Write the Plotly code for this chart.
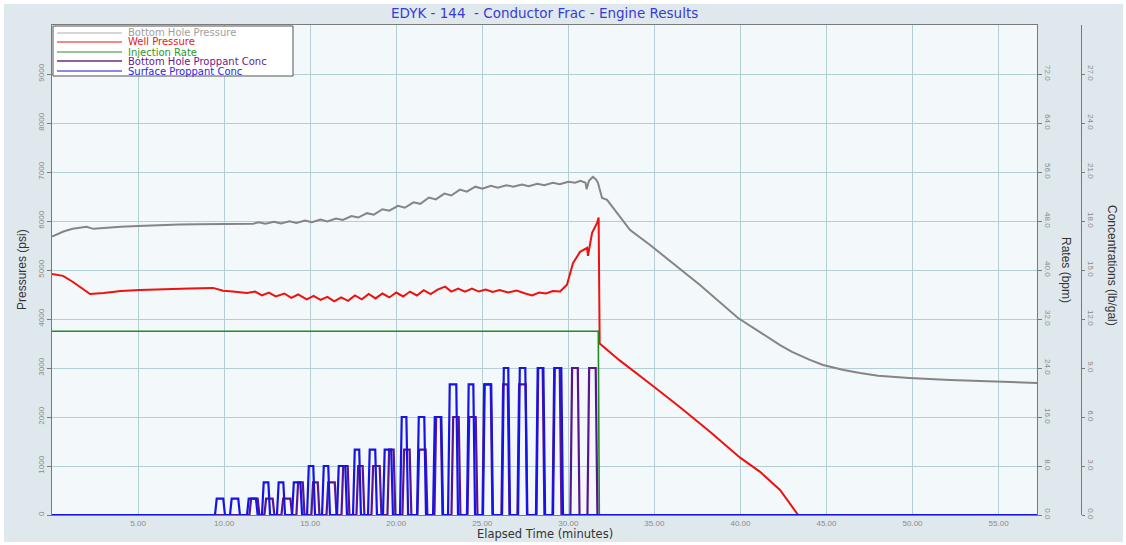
import plotly.graph_objects as go

# ---- Treatment data ----
# Bottom hole pressure (psi) vs elapsed time (min)
bhp_t = [0, 0.3, 0.7, 1.2, 1.7, 2.0, 2.4, 3.0, 4.0, 5.0, 6.0, 7.4, 8.5, 9.5, 10.5, 11.3, 11.7,
         12.0, 12.4, 12.9, 13.3, 13.8, 14.2, 14.7, 15.1, 15.6, 16.0, 16.5, 16.9, 17.4, 17.8,
         18.3, 18.7, 19.2, 19.6, 20.1, 20.5, 21.0, 21.4, 21.9, 22.3, 22.8, 23.2, 23.7, 24.1,
         24.6, 25.0, 25.5, 25.9, 26.4, 26.8, 27.3, 27.7, 28.2, 28.6, 29.1, 29.5, 30.0, 30.4,
         30.7, 31.0, 31.06, 31.2, 31.43, 31.6, 31.72, 31.85, 31.96, 32.25, 33.59, 34.75, 36.2,
         37.65, 39.86, 41.0, 42.3, 43.0, 44.0, 44.8, 46.0, 46.95, 48.0, 49.8, 52.18, 57.23]
bhp_psi = [5680, 5730, 5790, 5840, 5870, 5880, 5840, 5860, 5885, 5900, 5915, 5930, 5935, 5940, 5945, 5950, 5945,
           5975, 5945, 5985, 5950, 5995, 5960, 6010, 5975, 6030, 5990, 6050, 6020, 6100, 6070,
           6160, 6130, 6240, 6210, 6310, 6270, 6380, 6350, 6480, 6440, 6560, 6520, 6640, 6600,
           6700, 6660, 6720, 6680, 6730, 6700, 6745, 6710, 6760, 6730, 6780, 6750, 6800, 6780,
           6820, 6780, 6650, 6820, 6900, 6850, 6780, 6600, 6470, 6430, 5816, 5510, 5100,
           4694, 4020, 3760, 3469, 3330, 3170, 3061, 2960, 2898, 2840, 2796, 2755, 2694]

# Well (surface) pressure (psi)
whp_t = [0, 0.64, 1.2, 1.7, 2.21, 3.0, 4.0, 5.11, 6.5, 8.0, 9.36, 9.94, 10.5, 11.33,
         11.8, 12.2, 12.6, 13.0, 13.5, 13.9, 14.3, 14.8, 15.2, 15.6, 16.0, 16.4, 16.8, 17.2,
         17.6, 18.0, 18.4, 18.8, 19.2, 19.6, 20.0, 20.4, 20.8, 21.2, 21.6, 22.0, 22.4, 22.84,
         23.2, 23.6, 24.0, 24.4, 24.8, 25.2, 25.6, 26.0, 26.5, 27.0, 27.5, 27.9, 28.3, 28.7,
         29.1, 29.52, 29.92, 30.27, 30.68, 31.09, 31.14, 31.38, 31.67, 31.76, 31.82,
         33.0, 34.75, 36.49, 38.23, 39.98, 41.14, 42.3, 43.35]
whp_psi = [4920, 4880, 4760, 4640, 4510, 4530, 4570, 4590, 4610, 4625, 4635, 4575, 4560, 4530,
           4560, 4480, 4540, 4460, 4520, 4430, 4500, 4400, 4470, 4390, 4450, 4360, 4440, 4370,
           4480, 4400, 4510, 4420, 4520, 4440, 4540, 4460, 4560, 4480, 4590, 4510, 4600, 4660,
           4560, 4620, 4560, 4620, 4560, 4600, 4550, 4590, 4540, 4580, 4520, 4480, 4540, 4520,
           4570, 4560, 4700, 5140, 5370, 5450, 5290, 5760, 5960, 6070, 3500,
           3150, 2680, 2200, 1700, 1170, 880, 510, 0]

# Injection rate (bpm)
rate_t = [0, 31.74, 31.8, 57.23]
rate_bpm = [30, 30, 0, 0]

# Surface proppant concentration pulses: start, end (min) and level (lb/gal)
sp_start = [9.47, 10.34, 11.33, 12.20, 13.07, 13.95, 14.82, 15.69, 16.56, 17.49, 18.36, 19.23,
            20.22, 21.21, 22.14, 23.01, 24.11, 25.04, 26.15, 27.08, 28.12, 29.11]
sp_end = [10.05, 10.92, 11.95, 12.67, 13.54, 14.53, 15.28, 16.15, 17.14, 17.95, 18.88, 19.81,
          20.69, 21.73, 22.72, 23.59, 24.58, 25.62, 26.61, 27.60, 28.65, 29.69]
sp_level = [1, 1, 1, 2, 2, 2, 3, 3, 3, 4, 4, 4, 6, 6, 6, 8, 8, 8, 9, 9, 9, 9]

# Bottom hole proppant concentration pulses
bp_start = [11.47, 12.34, 13.33, 14.20, 15.07, 15.95, 16.82, 17.69, 18.56, 19.49, 20.36, 21.23,
            22.22, 23.21, 24.14, 25.01, 26.11, 27.04, 28.15, 29.08, 30.12, 31.11]
bp_end = [12.05, 12.92, 13.95, 14.67, 15.54, 16.53, 17.28, 18.15, 19.14, 19.95, 20.88, 21.81,
          22.69, 23.73, 24.72, 25.59, 26.58, 27.62, 28.61, 29.60, 30.65, 31.69]
bp_level = [1, 1, 1, 2, 2, 2, 3, 3, 3, 4, 4, 4, 6, 6, 6, 8, 8, 8, 9, 9, 9, 9]

T_END = 57.23
RAMP = 0.1  # rise/fall time of each concentration step (min)


def pulse_trace(starts, ends, levels):
    """Turn a list of concentration stages into a stepped polyline."""
    xs, ys = [0.0], [0.0]
    for s, e, lv in zip(starts, ends, levels):
        xs += [s, s + RAMP, e - RAMP, e]
        ys += [0, lv, lv, 0]
    xs.append(T_END)
    ys.append(0)
    return xs, ys


# ---- Page geometry (pixels) ----
W, H = 1126, 545
L_PX, R_PX, T_PX, B_PX = 52, 10, 25, 30
PLOT_RIGHT = 1037
PAPER_W = W - L_PX - R_PX
PAPER_H = H - T_PX - B_PX


def px_x(x):
    return (x - L_PX) / PAPER_W


def px_y(y):
    return (H - B_PX - y) / PAPER_H


C_GRAY = "#858585"
C_RED = "#f01010"
C_GREEN = "#1f8c1f"
C_PURPLE = "#5b1490"
C_BLUE = "#1414e6"
GRID = "#b3cfd3"
AXIS = "#7a7a7a"
FRAME_BG = "#dfe9ed"
PLOT_BG = "#f3f8fa"
TICKFONT = dict(family="Liberation Sans Narrow, Liberation Sans, Arial", size=8, color="#8a8a8a")

fig = go.Figure()

sx, sy = pulse_trace(sp_start, sp_end, sp_level)
bx, by = pulse_trace(bp_start, bp_end, bp_level)

fig.add_trace(go.Scatter(x=bx, y=by, yaxis="y3", mode="lines",
                         line=dict(color=C_PURPLE, width=2.2), name="Bottom Hole Proppant Conc"))
fig.add_trace(go.Scatter(x=sx, y=sy, yaxis="y3", mode="lines",
                         line=dict(color=C_BLUE, width=2.2), name="Surface Proppant Conc"))
fig.add_trace(go.Scatter(x=rate_t, y=rate_bpm, yaxis="y2", mode="lines",
                         line=dict(color=C_GREEN, width=1.6), name="Injection Rate"))
fig.add_trace(go.Scatter(x=bhp_t, y=bhp_psi, mode="lines",
                         line=dict(color=C_GRAY, width=2), name="Bottom Hole Pressure"))
fig.add_trace(go.Scatter(x=whp_t, y=whp_psi, mode="lines",
                         line=dict(color=C_RED, width=2), name="Well Pressure"))

x_ticks = [5, 10, 15, 20, 25, 30, 35, 40, 45, 50, 55]
p_ticks = [0, 1000, 2000, 3000, 4000, 5000, 6000, 7000, 8000, 9000]
r_ticks = [0, 8, 16, 24, 32, 40, 48, 56, 64, 72]
c_ticks = [0, 3, 6, 9, 12, 15, 18, 21, 24, 27]

fig.update_layout(
    width=W, height=H,
    margin=dict(l=L_PX, r=R_PX, t=T_PX, b=B_PX, pad=0),
    paper_bgcolor="white",
    plot_bgcolor="rgba(0,0,0,0)",
    showlegend=False,
    xaxis=dict(domain=[0, px_x(PLOT_RIGHT)], range=[0, T_END],
               tickvals=x_ticks, ticktext=[f"{v:.2f}" for v in x_ticks],
               tickfont=TICKFONT, showgrid=True, gridcolor=GRID, gridwidth=1,
               zeroline=False, showline=True, linecolor=AXIS, mirror=True,
               ticks="", automargin=False),
    yaxis=dict(range=[0, 10000], tickvals=p_ticks, ticktext=[str(v) for v in p_ticks],
               tickangle=-90, tickfont=TICKFONT, ticks="outside", ticklen=4, tickcolor=AXIS,
               showgrid=True, gridcolor=GRID, gridwidth=1, zeroline=False,
               showline=True, linecolor=AXIS, mirror=True, automargin=False),
    yaxis2=dict(overlaying="y", side="right", anchor="x", range=[0, 80],
                tickvals=r_ticks, ticktext=[f"{v:.1f}" for v in r_ticks],
                tickangle=90, tickfont=TICKFONT, ticks="outside", ticklen=4, tickcolor=AXIS,
                showgrid=False, zeroline=False, showline=True, linecolor=AXIS,
                automargin=False),
    yaxis3=dict(overlaying="y", side="right", anchor="free", position=px_x(1081),
                range=[0, 30], tickvals=c_ticks, ticktext=[f"{v:.1f}" for v in c_ticks],
                tickangle=90, tickfont=TICKFONT, ticks="outside", ticklen=3, tickcolor=AXIS,
                showgrid=False, zeroline=False, showline=True, linecolor=AXIS,
                automargin=False),
)

annotations = [
    dict(text="EDYK - 144\u00a0\u00a0- Conductor Frac - Engine Results", x=px_x(544), y=px_y(13),
         font=dict(family="DejaVu Sans, Verdana", size=13.5, color="#3a3ad8")),
    dict(text="Elapsed Time (minutes)", x=px_x(545), y=px_y(534),
         font=dict(family="DejaVu Sans, Verdana", size=11.5, color="#333333")),
    dict(text="Pressures (psi)", x=px_x(22), y=px_y(270), textangle=-90,
         font=dict(family="Liberation Sans Narrow, Liberation Sans, Arial", size=12, color="#333333")),
    dict(text="Rates (bpm)", x=px_x(1066), y=px_y(270), textangle=90,
         font=dict(family="Liberation Sans Narrow, Liberation Sans, Arial", size=12, color="#333333")),
    dict(text="Concentrations (lb/gal)", x=px_x(1112), y=px_y(265), textangle=90,
         font=dict(family="Liberation Sans Narrow, Liberation Sans, Arial", size=12, color="#333333")),
]
for a in annotations:
    a.update(xref="paper", yref="paper", xanchor="center", yanchor="middle", showarrow=False)

# Chart frame and plot-area backgrounds (drawn beneath the grid)
shapes = [
    dict(type="rect", xref="paper", yref="paper", layer="below",
         x0=px_x(4), x1=px_x(W - 3), y0=px_y(H - 3), y1=px_y(4),
         fillcolor=FRAME_BG, line=dict(width=0)),
    dict(type="rect", xref="paper", yref="paper", layer="below",
         x0=0, x1=px_x(PLOT_RIGHT), y0=0, y1=1,
         fillcolor=PLOT_BG, line=dict(width=0)),
]

# Legend box drawn by hand so the line samples are long like the original
shapes.append(dict(type="rect", xref="paper", yref="paper",
                   x0=px_x(53), x1=px_x(293), y0=px_y(76), y1=px_y(26),
                   fillcolor="white", line=dict(color="#555555", width=1)))
legend_rows = [("Bottom Hole Pressure", "#c8c8c8", "#a0a0a0", 33),
               ("Well Pressure", "#f06060", "#e81818", 42),
               ("Injection Rate", "#70b070", "#2a962a", 52),
               ("Bottom Hole Proppant Conc", "#6a2a8a", "#6a1a90", 61),
               ("Surface Proppant Conc", "#6060e8", "#2828e0", 71)]
for label, lcol, tcol, ypx in legend_rows:
    shapes.append(dict(type="line", xref="paper", yref="paper",
                       x0=px_x(57), x1=px_x(122), y0=px_y(ypx), y1=px_y(ypx),
                       line=dict(color=lcol, width=1.5)))
    annotations.append(dict(text=label, xref="paper", yref="paper", x=px_x(126), y=px_y(ypx),
                            xanchor="left", yanchor="middle", showarrow=False,
                            font=dict(family="DejaVu Sans, Verdana", size=10, color=tcol)))

fig.update_layout(annotations=annotations, shapes=shapes)
fig.write_html("out.html")
